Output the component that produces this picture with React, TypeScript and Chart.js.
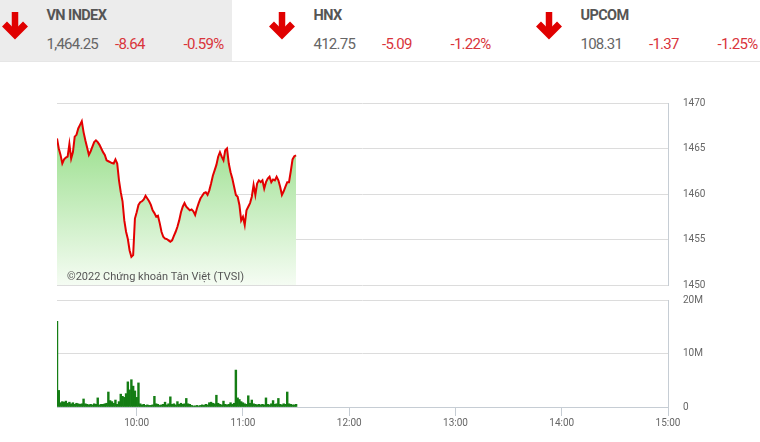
import { useEffect, useRef } from "react";
import { Chart, registerables } from "chart.js";

Chart.register(...registerables);

// ---- Data ----
const startMinute = 555; // 09:15, one value per minute until 11:30
const indexValues = [
  1466.1, 1465.0, 1464.3, 1463.35, 1463.8, 1464.0, 1464.1, 1465.5, 1463.9, 1464.6,
  1466.3, 1466.5, 1467.2, 1467.6, 1468.0, 1466.8, 1465.9, 1465.1, 1464.3, 1464.7,
  1465.2, 1465.7, 1465.9, 1465.7, 1465.4, 1465.0, 1464.6, 1464.3, 1463.7, 1463.6,
  1463.5, 1463.4, 1463.35, 1463.8, 1463.35, 1461.5, 1460.2, 1459.2, 1457.1, 1455.85,
  1455.05, 1453.8, 1453.1, 1453.3, 1457.3, 1458.0, 1458.8, 1459.1, 1459.2, 1459.4,
  1459.8, 1459.5, 1459.2, 1458.8, 1458.2, 1457.9, 1457.5, 1457.6, 1456.8, 1455.85,
  1455.3, 1455.1, 1455.05, 1454.9, 1454.75, 1454.9, 1455.4, 1455.85, 1456.4, 1457.1,
  1458.0, 1458.6, 1459.0, 1458.6, 1458.4, 1458.2, 1458.3, 1458.1, 1457.7, 1458.4,
  1459.0, 1459.5, 1459.8, 1460.1, 1460.2, 1459.9, 1460.4, 1461.15, 1462.0, 1462.6,
  1463.2, 1464.1, 1464.6, 1464.1, 1463.7, 1464.8, 1465.0, 1463.35, 1462.4, 1461.7,
  1460.8, 1459.9, 1459.7, 1458.8, 1457.1, 1457.5, 1456.6, 1458.2, 1458.6, 1459.0,
  1459.7, 1461.0, 1459.9, 1461.15, 1461.5, 1461.3, 1461.5, 1460.6, 1461.3, 1461.7,
  1461.9, 1461.3, 1461.6, 1461.5, 1461.9, 1461.5, 1460.8, 1459.9, 1460.3, 1460.8,
  1461.3, 1461.3, 1462.5, 1463.8, 1464.15, 1464.25,
];
// volume in millions of shares per minute
const volumeValues = [
  16.0, 3.1, 0.8, 1.0, 0.9, 1.1, 0.7, 0.9, 0.6, 0.8,
  0.5, 0.7, 0.6, 0.5, 0.6, 1.5, 0.6, 0.5, 0.4, 0.5,
  0.4, 0.6, 0.5, 1.7, 0.4, 0.5, 0.5, 0.6, 0.7, 2.8,
  1.2, 1.0, 0.7, 1.3, 0.5, 1.0, 2.4, 2.0, 1.8, 2.5,
  4.7, 3.2, 5.1, 3.9, 3.0, 1.8, 4.5, 0.6, 0.4, 0.5,
  0.3, 0.4, 0.3, 0.3, 0.4, 2.0, 0.6, 0.5, 0.3, 0.4,
  0.5, 0.9, 0.4, 0.6, 1.9, 0.5, 0.6, 0.4, 1.0, 0.5,
  0.7, 0.5, 0.6, 1.6, 0.6, 0.5, 0.3, 0.2, 0.2, 0.3,
  0.2, 0.3, 0.4, 0.3, 0.5, 0.4, 0.8, 0.9, 0.7, 0.6,
  2.2, 0.7, 0.5, 0.4, 1.1, 0.5, 0.4, 0.5, 0.8, 0.5,
  0.7, 6.9, 1.7, 1.4, 1.0, 0.8, 0.6, 0.5, 2.1, 0.7,
  1.3, 0.6, 0.5, 0.4, 0.5, 0.4, 0.5, 0.4, 1.7, 0.5,
  0.4, 0.6, 1.2, 0.5, 0.6, 1.6, 0.5, 0.4, 0.6, 0.5,
  2.8, 0.6, 0.5, 0.4, 0.4, 0.5,
];
const xTickMinutes = [600, 660, 720, 780, 840, 900];
const priceMin = 1450;
const priceMax = 1470;
const priceStep = 5;
const volumeMax = 20;
const volumeStep = 10;

const indexNames = ["VN INDEX", "HNX", "UPCOM"];
const indexLast = ["1,464.25", "412.75", "108.31"];
const indexChange = ["-8.64", "-5.09", "-1.37"];
const indexPct = ["-0.59%", "-1.22%", "-1.25%"];
const watermark = "©2022 Chứng khoán Tân Việt (TVSI)";

const W = 760;
const H = 442;
const PLOT_LEFT = 57;
const AXIS_W = 92;
const TICK_FONT = { family: "Roboto", size: 10 };
const TICK_COLOR = "#666";
const GRID = "#dcdcdc";
const BORDER = "#c6cdd4";

const fmtTime = (m: number) => {
  const h = Math.floor(m / 60);
  const mm = m % 60;
  return `${h}:${mm < 10 ? "0" + mm : mm}`;
};

function Arrow({ left }: { left: number }) {
  return (
    <svg
      width={30}
      height={30}
      style={{ position: "absolute", left, top: 10 }}
      viewBox="0 0 30 30"
    >
      <line x1={14} y1={2} x2={14} y2={22} stroke="#e00000" strokeWidth={6.5} />
      <polyline
        points="3.5,14 14,24.5 24.5,14"
        fill="none"
        stroke="#e00000"
        strokeWidth={7}
        strokeLinejoin="miter"
      />
    </svg>
  );
}

export default function App() {
  const priceRef = useRef<HTMLCanvasElement | null>(null);
  const volRef = useRef<HTMLCanvasElement | null>(null);

  useEffect(() => {
    const pricePts = indexValues.map((v, i) => ({ x: startMinute + i, y: v }));
    const volPts = volumeValues.map((v, i) => ({ x: startMinute + i, y: v }));

    const watermarkPlugin = {
      id: "wm",
      afterDatasetsDraw(chart: any) {
        const c = chart.ctx;
        c.save();
        c.font = "11px Roboto";
        c.fillStyle = "#555";
        c.textBaseline = "middle";
        c.fillText(watermark, 67, 277);
        c.restore();
      },
    };

    const priceChart = new Chart(priceRef.current as HTMLCanvasElement, {
      type: "line",
      data: {
        datasets: [
          {
            data: pricePts,
            borderColor: "#e30000",
            borderWidth: 2,
            pointRadius: 0,
            tension: 0,
            fill: "start",
            backgroundColor: (ctx: any) => {
              const area = ctx.chart.chartArea;
              if (!area) return "rgba(0,0,0,0)";
              const g = ctx.chart.ctx.createLinearGradient(0, area.top, 0, area.bottom);
              g.addColorStop(0, "#88d978");
              g.addColorStop(1, "#f5fcf3");
              return g;
            },
          },
        ],
      },
      options: {
        animation: false,
        responsive: false,
        maintainAspectRatio: false,
        layout: { padding: { left: PLOT_LEFT, right: 0, top: 103, bottom: H - 285 } },
        plugins: { legend: { display: false }, tooltip: { enabled: false } },
        scales: {
          x: { type: "linear", min: startMinute, max: 900, display: false },
          y: {
            position: "right",
            min: priceMin,
            max: priceMax,
            ticks: {
              stepSize: priceStep,
              font: TICK_FONT,
              color: TICK_COLOR,
              padding: 15,
              callback: (v: any) => String(v),
            },
            grid: { color: GRID, drawTicks: false },
            border: { color: BORDER },
            afterFit: (s: any) => {
              s.width = AXIS_W;
            },
          },
        },
      },
      plugins: [watermarkPlugin],
    } as any);

    const volChart = new Chart(volRef.current as HTMLCanvasElement, {
      type: "bar",
      data: {
        datasets: [
          {
            data: volPts,
            backgroundColor: "#147d14",
            borderWidth: 0,
            barPercentage: 1,
            categoryPercentage: 1,
          },
        ],
      },
      options: {
        animation: false,
        responsive: false,
        maintainAspectRatio: false,
        layout: { padding: { left: PLOT_LEFT, right: 0, top: 300, bottom: 0 } },
        plugins: { legend: { display: false }, tooltip: { enabled: false } },
        scales: {
          x: {
            type: "linear",
            min: startMinute,
            max: 900,
            offset: false,
            afterBuildTicks: (s: any) => {
              s.ticks = xTickMinutes.map((v) => ({ value: v }));
            },
            ticks: {
              font: TICK_FONT,
              color: TICK_COLOR,
              padding: 1,
              maxRotation: 0,
              autoSkip: false,
              callback: (v: any) => fmtTime(Number(v)),
            },
            grid: { offset: false, drawOnChartArea: false, drawTicks: true, tickLength: 9, color: BORDER },
            border: { color: BORDER },
            afterFit: (s: any) => {
              s.height = H - 407;
            },
          },
          y: {
            position: "right",
            min: 0,
            max: volumeMax,
            ticks: {
              stepSize: volumeStep,
              font: TICK_FONT,
              color: TICK_COLOR,
              padding: 15,
              callback: (v: any) => (Number(v) === 0 ? "0" : `${v}M`),
            },
            grid: { color: GRID, drawTicks: false },
            border: { color: BORDER },
            afterFit: (s: any) => {
              s.width = AXIS_W;
            },
          },
        },
      },
    } as any);

    return () => {
      priceChart.destroy();
      volChart.destroy();
    };
  }, []);

  const panelX = [0, 267, 534];

  return (
    <div
      style={{
        position: "absolute",
        left: 0,
        top: 0,
        width: W,
        height: H,
        overflow: "hidden",
        background: "#fff",
        fontFamily: "Roboto, sans-serif",
      }}
    >
      <div style={{ position: "absolute", left: 0, top: 0, width: 232, height: 62, background: "#ececec" }} />
      <div style={{ position: "absolute", left: 0, top: 61, width: W, height: 1, background: "#e6e6e6" }} />
      {indexNames.map((name, i) => {
        const x = panelX[i];
        return (
          <div key={name}>
            <Arrow left={x + 1} />
            <div
              style={{
                position: "absolute",
                left: x + 46.5,
                top: 8,
                fontSize: 14.5,
                lineHeight: "16px",
                fontWeight: 700,
                color: "#555",
                letterSpacing: -0.6,
                whiteSpace: "nowrap",
              }}
            >
              {name}
            </div>
            <div
              style={{
                position: "absolute",
                left: x + 46.5,
                top: 36,
                fontSize: 15,
                lineHeight: "17px",
                color: "#666",
                letterSpacing: -0.75,
                whiteSpace: "nowrap",
              }}
            >
              {indexLast[i]}
            </div>
            <div
              style={{
                position: "absolute",
                left: x + 115,
                top: 36,
                fontSize: 15,
                lineHeight: "17px",
                color: "#d9343b",
                letterSpacing: -0.75,
                whiteSpace: "nowrap",
              }}
            >
              {indexChange[i]}
            </div>
            <div
              style={{
                position: "absolute",
                left: x + 183.5,
                top: 36,
                fontSize: 15,
                lineHeight: "17px",
                color: "#d9343b",
                letterSpacing: -0.75,
                whiteSpace: "nowrap",
              }}
            >
              {indexPct[i]}
            </div>
          </div>
        );
      })}
      <canvas
        ref={priceRef}
        width={W}
        height={H}
        style={{ position: "absolute", left: 0, top: 0, width: W, height: H }}
      />
      <canvas
        ref={volRef}
        width={W}
        height={H}
        style={{ position: "absolute", left: 0, top: 0, width: W, height: H }}
      />
    </div>
  );
}
